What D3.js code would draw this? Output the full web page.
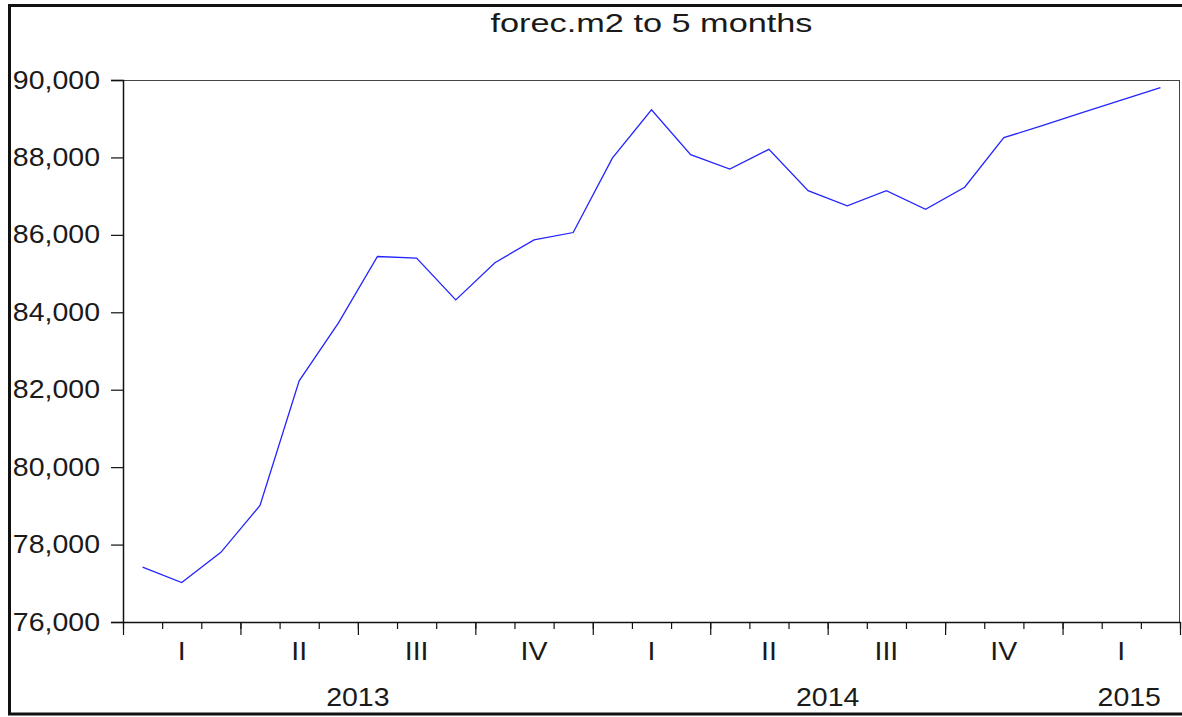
<!DOCTYPE html>
<html>
<head>
<meta charset="utf-8">
<script src="https://cdn.jsdelivr.net/npm/d3@7/dist/d3.min.js"></script>
<style>
  body { margin: 0; background: #fff; }
  svg text { font-family: "Liberation Sans", Arial, sans-serif; fill: #1a1a1a; }
</style>
</head>
<body>
<svg id="chart"></svg>
<script>
// monthly periods 2013M01 .. 2015M03
const periods = ["2013M01","2013M02","2013M03","2013M04","2013M05","2013M06",
  "2013M07","2013M08","2013M09","2013M10","2013M11","2013M12",
  "2014M01","2014M02","2014M03","2014M04","2014M05","2014M06",
  "2014M07","2014M08","2014M09","2014M10","2014M11","2014M12",
  "2015M01","2015M02","2015M03"];
const m2Values = [77420, 77020, 77800, 79010, 82230, 83720,
  85440, 85400, 84320, 85280, 85870, 86060,
  87980, 89230, 88070, 87700, 88210, 87140,
  86750, 87140, 86660, 87230, 88510, 88830,
  89160, 89480, 89800];
const yTicks = [76000, 78000, 80000, 82000, 84000, 86000, 88000, 90000];
const quarterLabels = ["I","II","III","IV","I","II","III","IV","I"];
const yearLabels = ["2013","2014","2015"];
const title = "forec.m2 to 5 months";

const config = {
  width: 1182, height: 717,
  margin: {top: 80, right: 2, bottom: 95, left: 123},
  stretch: 1.14   // the original graph was widened, text looks stretched
};

const svg = d3.select('#chart')
    .attr('width', config.width)
    .attr('height', config.height);

const plotW = config.width - config.margin.left - config.margin.right;
const plotH = config.height - config.margin.top - config.margin.bottom;

// widen text horizontally like the reference
function stretchText(sel) {
  sel.each(function() {
    const w = this.getComputedTextLength();
    d3.select(this)
      .attr('textLength', w * config.stretch)
      .attr('lengthAdjust', 'spacingAndGlyphs');
  });
}

// outer frame (right edge runs off the picture)
svg.append('rect')
    .attr('x', 9.5).attr('y', 5.5)
    .attr('width', 1190).attr('height', 708.5)
    .attr('fill', 'none')
    .attr('stroke', '#111')
    .attr('stroke-width', 3);

svg.append('text')
    .attr('x', config.margin.left + plotW / 2)
    .attr('y', 32)
    .attr('text-anchor', 'middle')
    .attr('font-size', 25)
    .attr('textLength', 322)
    .attr('lengthAdjust', 'spacingAndGlyphs')
    .text(title);

const chart = svg.append('g')
    .attr('transform', `translate(${config.margin.left},${config.margin.top})`);

// month index scale: each month occupies one unit
const xScale = d3.scaleLinear()
    .domain([0, periods.length])
    .range([0, plotW]);

const yScale = d3.scaleLinear()
    .domain([76000, 90000])
    .range([plotH, 0]);

// plot box
chart.append('rect')
    .attr('x', 0.5).attr('y', 0.5)
    .attr('width', plotW - 1).attr('height', plotH)
    .attr('fill', 'none')
    .attr('stroke', '#444')
    .attr('stroke-width', 1);

// y axis
const yAxis = d3.axisLeft(yScale)
    .tickValues(yTicks)
    .tickSize(12)
    .tickPadding(11)
    .tickFormat(d3.format(','));

const yAxisG = chart.append('g').call(yAxis);
yAxisG.select('.domain').attr('stroke', '#111').attr('stroke-width', 1.5);
yAxisG.selectAll('.tick line').attr('stroke', '#111').attr('stroke-width', 1.2);
yAxisG.selectAll('.tick text')
    .attr('font-size', 25)
    .attr('font-family', '"Liberation Sans", Arial, sans-serif')
    .attr('fill', '#1a1a1a')
    .call(stretchText);

// x axis: minor monthly ticks and major quarterly ticks
const monthTicks = d3.range(0, periods.length + 1);
const quarterTicks = monthTicks.filter(d => d % 3 === 0);

const xMinor = d3.axisBottom(xScale)
    .tickValues(monthTicks)
    .tickSize(7)
    .tickSizeOuter(0)
    .tickFormat('');
const xMajor = d3.axisBottom(xScale)
    .tickValues(quarterTicks)
    .tickSize(13)
    .tickSizeOuter(0)
    .tickFormat('');

const xMinorG = chart.append('g')
    .attr('transform', `translate(0,${plotH})`)
    .call(xMinor);
xMinorG.select('.domain').attr('stroke', '#111').attr('stroke-width', 1.5);
xMinorG.selectAll('.tick line').attr('stroke', '#111').attr('stroke-width', 1.2);

const xMajorG = chart.append('g')
    .attr('transform', `translate(0,${plotH})`)
    .call(xMajor);
xMajorG.select('.domain').remove();
xMajorG.selectAll('.tick line').attr('stroke', '#111').attr('stroke-width', 1.2);

chart.selectAll('.q-label')
    .data(quarterLabels)
  .join('text')
    .attr('class', 'q-label')
    .attr('x', (d, i) => xScale(i * 3 + 1.5))
    .attr('y', plotH + 38)
    .attr('text-anchor', 'middle')
    .attr('font-size', 25)
    .text(d => d)
    .call(stretchText);

chart.selectAll('.y-label')
    .data(yearLabels)
  .join('text')
    .attr('class', 'y-label')
    .attr('x', (d, i) => {
      const start = i * 12;
      const end = Math.min(start + 12, periods.length);
      return xScale((start + end) / 2) + (end - start < 12 ? 8 : 0);
    })
    .attr('y', plotH + 84)
    .attr('text-anchor', 'middle')
    .attr('font-size', 25)
    .text(d => d)
    .call(stretchText);

// series line, points at mid-month
const line = d3.line()
    .x((d, i) => xScale(i + 0.5))
    .y(d => yScale(d));

chart.append('path')
    .datum(m2Values)
    .attr('fill', 'none')
    .attr('stroke', '#2424ff')
    .attr('stroke-width', 1.3)
    .attr('d', line);
</script>
</body>
</html>
